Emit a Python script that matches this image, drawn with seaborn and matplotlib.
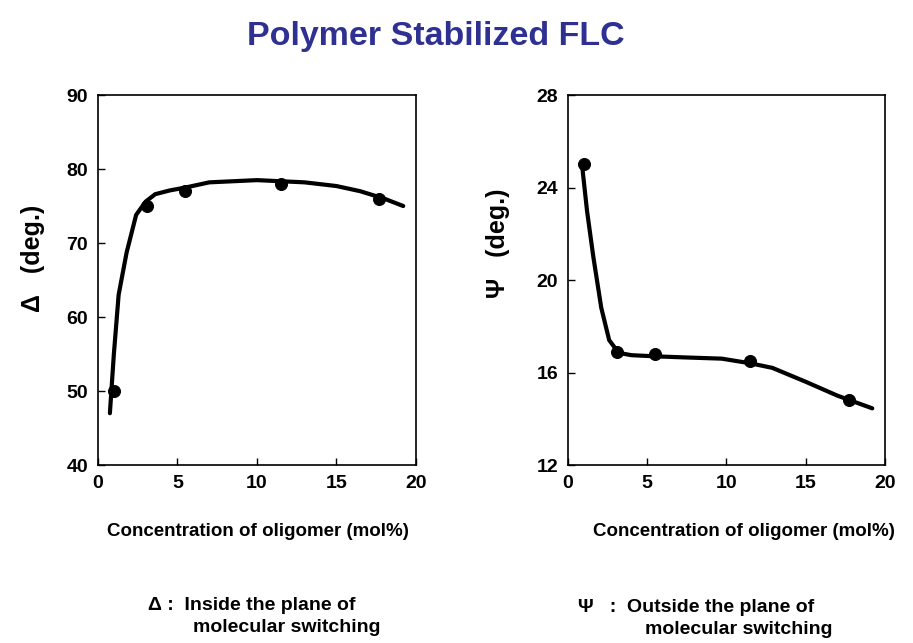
import matplotlib
matplotlib.use("Agg")
import matplotlib.pyplot as plt
import seaborn as sns
import pandas as pd

# measured points
conc_pts = [1.0, 3.1, 5.5, 11.5, 17.7]
delta_pts = [50, 75, 77, 78, 76]
psi_pts = [25.0, 16.9, 16.8, 16.5, 14.8]

# hand-drawn fit curves
delta_curve_x = [0.75, 1.0, 1.3, 1.8, 2.4, 3.0, 3.6, 4.5, 5.5, 7.0, 10.0, 13.0, 15.0, 16.5, 18.0, 19.2]
delta_curve_y = [47.0, 55.0, 63.0, 68.7, 73.8, 75.6, 76.6, 77.1, 77.5, 78.2, 78.5, 78.2, 77.7, 77.0, 76.0, 75.0]
psi_curve_x = [0.9, 1.2, 1.6, 2.1, 2.6, 3.2, 4.0, 5.5, 7.5, 9.7, 11.5, 12.9, 15.0, 17.0, 19.2]
psi_curve_y = [24.9, 23.0, 21.0, 18.8, 17.4, 16.85, 16.75, 16.7, 16.65, 16.6, 16.4, 16.2, 15.6, 15.0, 14.45]

sns.set_style("ticks")
plt.rcParams['font.family'] = ['Liberation Sans', 'DejaVu Sans']
plt.rcParams.update({'text.color': 'black', 'axes.labelcolor': 'black',
                     'xtick.color': 'black', 'ytick.color': 'black',
                     'axes.edgecolor': 'black'})

fig = plt.figure(figsize=(9.13, 6.43), dpi=100)
ax1 = fig.add_axes([0.1073, 0.2768, 0.3483, 0.5754])
ax2 = fig.add_axes([0.6221, 0.2768, 0.3472, 0.5754])

d1 = pd.DataFrame({'x': delta_curve_x, 'y': delta_curve_y})
p1 = pd.DataFrame({'x': conc_pts, 'y': delta_pts})
d2 = pd.DataFrame({'x': psi_curve_x, 'y': psi_curve_y})
p2 = pd.DataFrame({'x': conc_pts, 'y': psi_pts})

sns.lineplot(data=d1, x='x', y='y', ax=ax1, color='black', linewidth=3, sort=False)
sns.scatterplot(data=p1, x='x', y='y', ax=ax1, color='black', s=75, edgecolor='black', zorder=3)
sns.lineplot(data=d2, x='x', y='y', ax=ax2, color='black', linewidth=3, sort=False)
sns.scatterplot(data=p2, x='x', y='y', ax=ax2, color='black', s=75, edgecolor='black', zorder=3)

ax1.set_xlim(0, 20)
ax1.set_ylim(40, 90)
ax1.set_yticks([40, 50, 60, 70, 80, 90])
ax2.set_xlim(0, 20)
ax2.set_ylim(12, 28)
ax2.set_yticks([12, 16, 20, 24, 28])

for ax in (ax1, ax2):
    ax.set_xticks([0, 5, 10, 15, 20])
    ax.tick_params(direction='in', length=5, width=1, labelsize=14, pad=7)
    for lab in ax.get_xticklabels() + ax.get_yticklabels():
        lab.set_fontweight('bold')
    for sp in ax.spines.values():
        sp.set_visible(True)
        sp.set_linewidth(1.2)
    ax.set_xlabel('')
    ax.set_ylabel('')

lab_font = ['Liberation Sans Narrow', 'Liberation Sans', 'DejaVu Sans']
fig.text(0.282, 1 - 531 / 643, 'Concentration of oligomer (mol%)', ha='center', va='center',
         fontsize=13.5, fontweight='bold', family=lab_font)
fig.text(0.815, 1 - 531 / 643, 'Concentration of oligomer (mol%)', ha='center', va='center',
         fontsize=13.5, fontweight='bold', family=lab_font)

fig.text(33 / 913, 1 - 258 / 643, 'Δ   (deg.)', rotation=90, ha='center', va='center',
         fontsize=18, fontweight='bold', family=['Liberation Sans', 'DejaVu Sans'])
fig.text(498 / 913, 1 - 243 / 643, 'Ψ   (deg.)', rotation=90, ha='center', va='center',
         fontsize=18, fontweight='bold', family=['Liberation Sans', 'DejaVu Sans'])

fig.text(436 / 913, 1 - 36 / 643, 'Polymer Stabilized FLC', ha='center', va='center',
         fontsize=24.5, fontweight='bold', color='#2e3192')

fig.text(148 / 913, 1 - 606 / 643, 'Δ :  Inside the plane of', ha='left', va='center',
         fontsize=14, fontweight='bold', family=lab_font)
fig.text(193 / 913, 1 - 628 / 643, 'molecular switching', ha='left', va='center',
         fontsize=14, fontweight='bold', family=lab_font)
fig.text(578 / 913, 1 - 608 / 643, 'Ψ   :  Outside the plane of', ha='left', va='center',
         fontsize=14, fontweight='bold', family=lab_font)
fig.text(645 / 913, 1 - 630 / 643, 'molecular switching', ha='left', va='center',
         fontsize=14, fontweight='bold', family=lab_font)

fig.savefig('out.png', dpi=100)
